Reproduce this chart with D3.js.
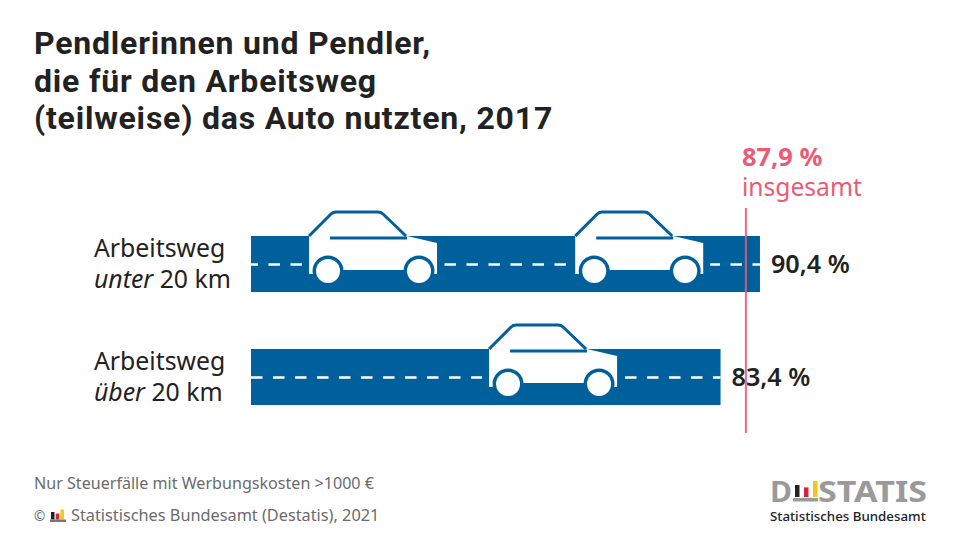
<!doctype html>
<html lang="de">
<head>
<meta charset="utf-8">
<title>Pendlerinnen und Pendler</title>
<script src="https://cdn.jsdelivr.net/npm/d3@7"></script>
<style>
  html, body { margin: 0; background: #fff; }
  svg { display: block; }
  text { font-family: "Noto Sans", "Open Sans", sans-serif; }
  .title { font-family: Roboto, "Noto Sans", sans-serif; letter-spacing: 0.8px; }
</style>
</head>
<body>
<svg id="chart" width="960" height="540"></svg>
<script>
// data
var titleLines = ["Pendlerinnen und Pendler,", "die für den Arbeitsweg", "(teilweise) das Auto nutzten, 2017"];
var categories = ["unter", "über"];
var values = [90.4, 83.4];
var carsPerBar = [2, 1];
var totalValue = 87.9;
var totalLabel = "insgesamt";
var categoryWord = "Arbeitsweg";
var categoryUnit = " 20 km";
var footnote = "Nur Steuerfälle mit Werbungskosten >1000 €";
var source = "Statistisches Bundesamt (Destatis), 2021";

var blue = "#00609c", red = "#ec5a74", dark = "#222", grey = "#6b6b6b";

var svg = d3.select("#chart");
var x = d3.scaleLinear().domain([0, 100]).range([251, 814]);
var y = d3.scaleBand().domain(categories).range([236, 405]).paddingInner(0.504);
var fmt = function(v) { return d3.format(".1f")(v).replace(".", ",") + " %"; };

// title
svg.append("g").selectAll("text").data(titleLines).enter().append("text")
  .attr("class", "title")
  .attr("x", 34).attr("y", function(d, i) { return 54 + i * 37.5; })
  .attr("font-size", 32).attr("font-weight", 700).attr("fill", dark)
  .text(function(d) { return d; });

// roads
var rows = svg.append("g").selectAll("g").data(categories).enter().append("g")
  .attr("transform", function(d) { return "translate(0," + y(d) + ")"; });

rows.append("rect")
  .attr("x", x(0)).attr("y", 0)
  .attr("width", function(d, i) { return x(values[i]) - x(0); })
  .attr("height", y.bandwidth())
  .attr("fill", blue);

// dashes run from the right end of each road
rows.append("line")
  .attr("x1", function(d, i) { return x(values[i]); }).attr("x2", x(0))
  .attr("y1", y.bandwidth() / 2 + 0.5).attr("y2", y.bandwidth() / 2 + 0.5)
  .attr("stroke", "#fff").attr("stroke-width", 2.3)
  .attr("stroke-dasharray", "11.5 10.5").attr("stroke-dashoffset", 4);

// one car, origin at the left end of the body on the road edge
function drawCar(g) {
  // clear road around the car so the dashes stop short of it
  g.append("rect").attr("x", -7).attr("y", 20).attr("width", 142).attr("height", 16).attr("fill", blue);
  g.append("path")
    .attr("d", "M0,0H98L128,7V38H124V34H4V38H0Z")
    .attr("fill", "#fff");
  g.append("path")
    .attr("d", "M0,0L22,-22Q24,-24 27,-24H69Q72,-24 74,-22L97,0")
    .attr("fill", "none").attr("stroke", blue).attr("stroke-width", 3);
  g.append("line")
    .attr("x1", 21).attr("x2", 98).attr("y1", 2).attr("y2", 2)
    .attr("stroke", blue).attr("stroke-width", 3);
  [19, 110].forEach(function(cx) {
    g.append("circle").attr("cx", cx).attr("cy", 35).attr("r", 15.5).attr("fill", blue);
    g.append("circle").attr("cx", cx).attr("cy", 35).attr("r", 12).attr("fill", "#fff");
  });
}

rows.each(function(d, i) {
  var row = d3.select(this);
  var w = x(values[i]) - x(0);
  d3.range(carsPerBar[i]).forEach(function(k) {
    // first row holds cars at 11 % and 64 % of the road, second row one in the middle
    var offset = carsPerBar[i] == 2 ? w * (k == 0 ? 0.114 : 0.637) : w * 0.507;
    drawCar(row.append("g").attr("transform", "translate(" + (x(0) + offset) + ",0)"));
  });
});

// category labels
var labels = rows.append("text").attr("x", 94).attr("font-size", 24.8).attr("fill", dark);
labels.append("tspan").attr("x", 94).attr("y", 21).text(categoryWord);
var second = labels.append("tspan").attr("x", 94).attr("y", 52);
second.append("tspan").attr("font-style", "italic").text(function(d) { return d; });
second.append("tspan").text(categoryUnit);

// total reference line
svg.append("line")
  .attr("x1", x(totalValue)).attr("x2", x(totalValue))
  .attr("y1", 208).attr("y2", 433)
  .attr("stroke", red).attr("stroke-width", 2).attr("opacity", 0.9);
svg.append("text").attr("x", 742).attr("y", 166)
  .attr("font-size", 25.4).attr("font-weight", 700).attr("fill", red)
  .text(fmt(totalValue));
svg.append("text").attr("x", 742).attr("y", 196)
  .attr("font-size", 24.6).attr("fill", red)
  .text(totalLabel);

// value labels sit on top of the reference line
svg.append("g").selectAll("text").data(values).enter().append("text")
  .attr("x", function(d) { return x(d) + 11; })
  .attr("y", function(d, i) { return y(categories[i]) + 37; })
  .attr("font-size", 25.2).attr("font-weight", 600).attr("fill", dark)
  .text(function(d) { return fmt(d); });

// footer
svg.append("text").attr("x", 34).attr("y", 489)
  .attr("font-size", 16.1).attr("fill", grey).text(footnote);
svg.append("text").attr("x", 34).attr("y", 521)
  .attr("font-size", 13.5).attr("fill", grey).text("©");
svg.append("text").attr("x", 71).attr("y", 521)
  .attr("font-size", 16.3).attr("fill", grey).text(source);

function flagBars(px, base, scale, w, gap) {
  [["#222", 0.75], ["#d4243a", 0.6], ["#f5c518", 1]].forEach(function(b, i) {
    var h = scale * b[1];
    svg.append("rect").attr("x", px + i * (w + gap)).attr("y", base - h)
      .attr("width", w).attr("height", h).attr("fill", b[0]);
  });
}
// small logo in the source line
flagBars(51, 519.5, 10, 3.5, 1.2);
svg.append("rect").attr("x", 50).attr("y", 519.5).attr("width", 16).attr("height", 2.5).attr("fill", "#777");

// Destatis logo
var logoGrey = "#9a9a9a";
svg.append("text").attr("x", 770).attr("y", 502)
  .attr("font-size", 29).attr("font-weight", 700).attr("fill", logoGrey)
  .attr("textLength", 22).attr("lengthAdjust", "spacingAndGlyphs").text("D");
flagBars(795, 497, 16, 4.5, 4.5);
svg.append("rect").attr("x", 793).attr("y", 498).attr("width", 25).attr("height", 3.5).attr("fill", logoGrey);
svg.append("text").attr("x", 818).attr("y", 502)
  .attr("font-size", 29).attr("font-weight", 700).attr("fill", logoGrey)
  .attr("textLength", 109).attr("lengthAdjust", "spacingAndGlyphs").text("STATIS");
svg.append("text").attr("x", 770).attr("y", 521)
  .attr("font-size", 13.3).attr("font-weight", 500).attr("fill", dark).text("Statistisches Bundesamt");
</script>
</body>
</html>
